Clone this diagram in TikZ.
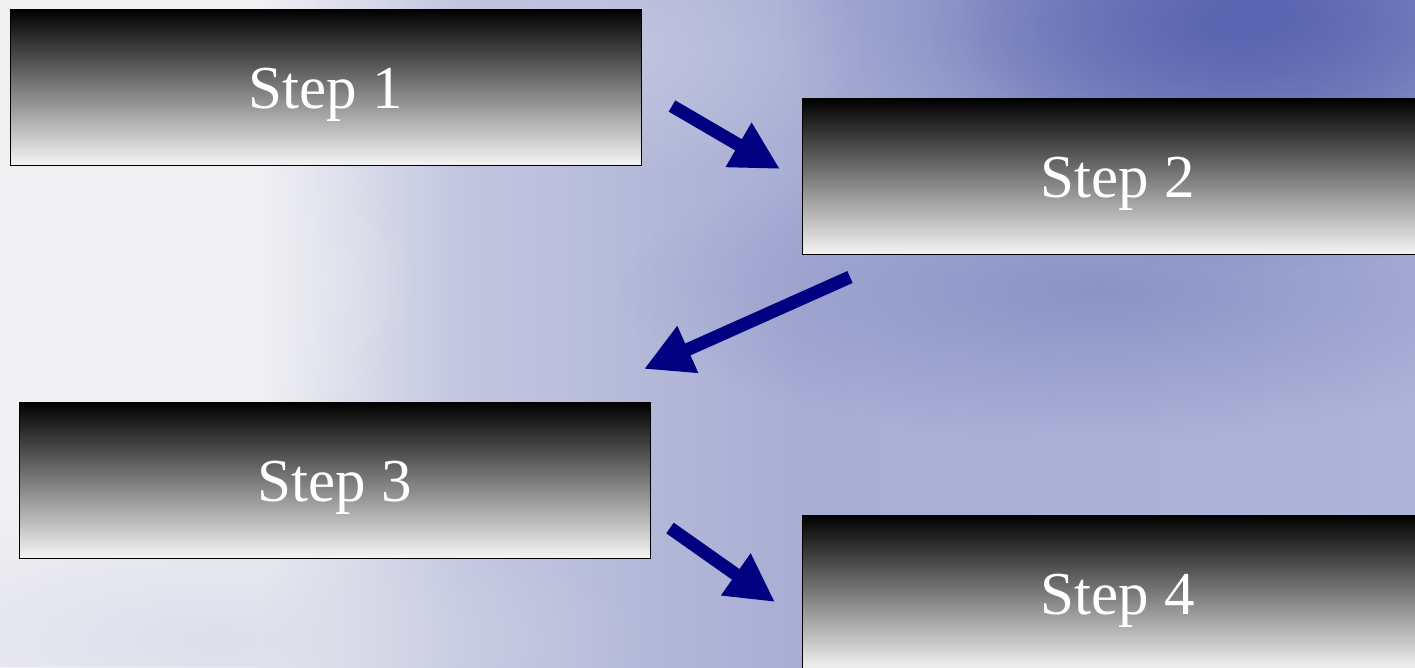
\documentclass[tikz,border=0pt]{standalone}
\usepackage{fontspec}
\setmainfont{Liberation Serif}
\usetikzlibrary{arrows.meta,fadings}
\definecolor{bgW}{HTML}{F0F0F3}
\definecolor{bgL}{HTML}{C2C6E0}
\definecolor{bgM}{HTML}{A8AED4}
\definecolor{bgR}{HTML}{AEB4D8}
\definecolor{bgD}{HTML}{5A64B0}
\definecolor{bgC}{HTML}{868EC4}
\definecolor{bgG}{HTML}{D8DAE8}
\definecolor{arrowblue}{HTML}{000080}
\tikzfading[name=softfade, inner color=transparent!0, outer color=transparent!100]
\tikzset{
  stepbox/.style={draw=black, line width=0.8pt, top color=black, bottom color=white!96!black,
    minimum width=631pt, minimum height=156pt, inner sep=0pt,
    text=white, font=\fontsize{61}{70}\selectfont, text height=42pt, text depth=0pt},
  flowarrow/.style={draw=arrowblue, line width=13pt, -{Triangle[length=48pt,width=48pt]}},
  blob/.style={fill=#1, path fading=softfade}
}
\begin{document}
\begin{tikzpicture}[x=1pt,y=-1pt]
\useasboundingbox (0,0) rectangle (1415,667);
\begin{scope}
\clip (0,0) rectangle (1415,667);
% background
\fill[bgW] (0,0) rectangle (260,667);
\shade[left color=bgW, right color=bgL] (259,0) rectangle (460,667);
\shade[left color=bgL, right color=bgM] (459,0) rectangle (800,667);
\shade[left color=bgM, right color=bgR] (799,0) rectangle (1415,667);
\fill[blob=bgG, fill opacity=0.8] (220,640) ellipse (420pt and 140pt);
\fill[blob=bgC, fill opacity=0.85] (1100,290) ellipse (480pt and 150pt);
\fill[blob=bgD, fill opacity=0.95] (1260,10) ellipse (480pt and 260pt);
\fill[blob=bgD, fill opacity=0.8] (1230,30) ellipse (300pt and 140pt);
\fill[blob=bgL, fill opacity=0.8] (620,50) ellipse (250pt and 130pt);
\fill[blob=bgW, fill opacity=0.7] (120,280) ellipse (300pt and 200pt);
% boxes
\node[stepbox] (s1) at (325.5,87) {Step 1};
\node[stepbox] (s2) at (1117.5,176.5) {Step 2};
\node[stepbox] (s3) at (334.5,480) {Step 3};
\node[stepbox] (s4) at (1117.5,593) {Step 4};
% arrows
\coordinate (a1s) at (672,106);
\coordinate (a1e) at (780,169);
\coordinate (a2s) at (850,277);
\coordinate (a2e) at (644,369);
\coordinate (a3s) at (670,528);
\coordinate (a3e) at (775,602);
\draw[flowarrow] (a1s) -- (a1e);
\draw[flowarrow] (a2s) -- (a2e);
\draw[flowarrow] (a3s) -- (a3e);
\end{scope}
\end{tikzpicture}
\end{document}
